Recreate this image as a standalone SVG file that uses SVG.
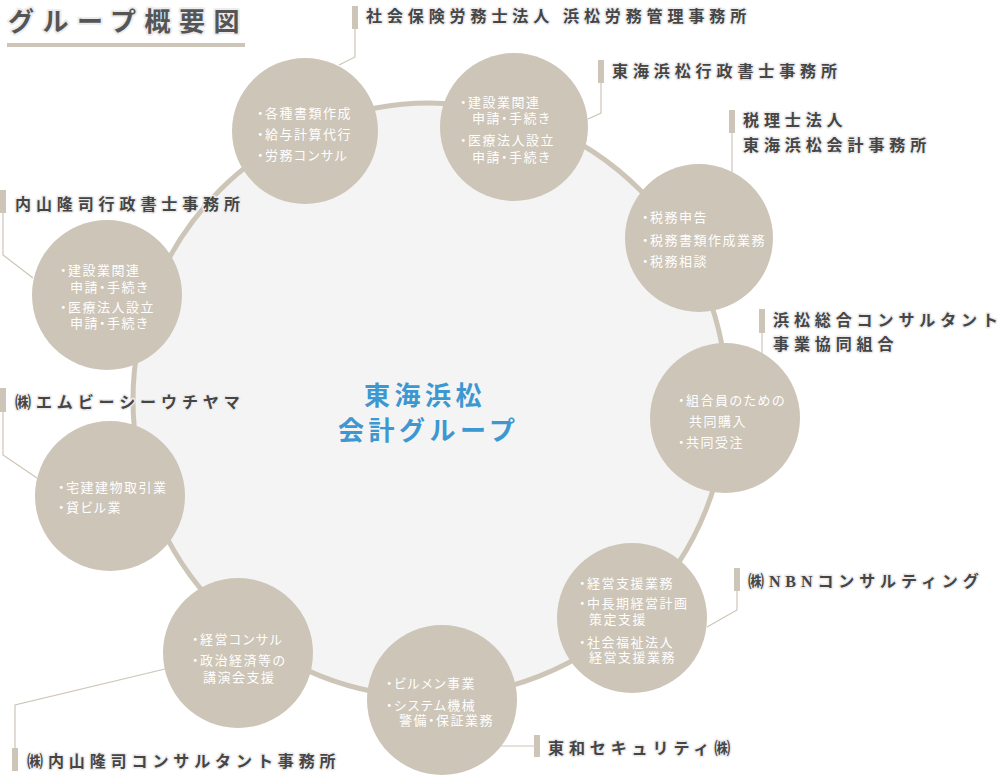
<svg xmlns="http://www.w3.org/2000/svg" width="1001" height="775" viewBox="0 0 1001 775">
<style>
.bg{fill:#ffffff}
.ring{fill:#f4f4f4;stroke:#cdc5b7;stroke-width:5}
.node{fill:#cdc5b7}
.nt{fill:#ffffff;font-family:"Noto Sans CJK JP","Noto Sans",sans-serif;font-size:13px;letter-spacing:1.5px;font-feature-settings:"palt"}
.bar{fill:#cdc5b7}
.con{fill:none;stroke:#cdc5b7;stroke-width:1.2}
.lbl{fill:#454545;font-family:"Liberation Serif","Noto Sans CJK JP",serif;font-weight:bold;font-size:16px;letter-spacing:4.9px;paint-order:stroke;stroke:#ececec;stroke-width:3px;stroke-linejoin:round}
.title{fill:#555555;font-family:"Liberation Serif","Noto Sans CJK JP",serif;font-weight:bold;font-size:26px;letter-spacing:8.5px;paint-order:stroke;stroke:#ececec;stroke-width:4px;stroke-linejoin:round}
.center{fill:#3d97d0;font-family:"Liberation Serif","Noto Sans CJK JP",serif;font-weight:bold;font-size:26px;letter-spacing:4.5px}
</style>
<rect class="bg" x="0" y="0" width="1001" height="775"/>
<g id="title">
<text class="title" x="8" y="31">グループ概要図</text>
<rect x="7" y="43" width="238" height="4" fill="#cdc5b7"/>
</g>
<g id="hub">
<circle class="ring" cx="430" cy="400" r="297"/>
<text class="center" x="364" y="405">東海浜松</text>
<text class="center" x="338" y="440">会計グループ</text>
</g>
<g id="connectors">
<polyline class="con" points="355,29 355,57 339,65"/>
<polyline class="con" points="601,83 601,113 588,119"/>
<polyline class="con" points="732,133 732,172"/>
<polyline class="con" points="762,333 762,354"/>
<polyline class="con" points="737,591 737,610 707,627"/>
<polyline class="con" points="500,746 534,746"/>
<polyline class="con" points="15,748 15,705 165,669"/>
<polyline class="con" points="3,412 3,455 37,478"/>
<polyline class="con" points="3,213 3,255 33,278"/>
</g>
<g id="node-sharoushi">
<circle class="node" cx="305" cy="131" r="73"/>
<text class="nt" x="257" y="118">・各種書類作成</text>
<text class="nt" x="257" y="139">・給与計算代行</text>
<text class="nt" x="257" y="160">・労務コンサル</text>
<rect class="bar" x="352" y="6" width="6" height="23"/>
<text class="lbl" x="366" y="22">社会保険労務士法人 浜松労務管理事務所</text>
</g>
<g id="node-gyosei">
<circle class="node" cx="514" cy="127" r="74"/>
<text class="nt" x="460" y="107">・建設業関連<tspan x="472" y="123">申請・手続き</tspan></text>
<text class="nt" x="460" y="145">・医療法人設立<tspan x="472" y="162">申請・手続き</tspan></text>
<rect class="bar" x="598" y="60" width="6" height="23"/>
<text class="lbl" x="612" y="77">東海浜松行政書士事務所</text>
</g>
<g id="node-zeirishi">
<circle class="node" cx="699" cy="238" r="74"/>
<text class="nt" x="642" y="222">・税務申告</text>
<text class="nt" x="642" y="245">・税務書類作成業務</text>
<text class="nt" x="642" y="266">・税務相談</text>
<rect class="bar" x="729" y="110" width="6" height="23"/>
<text class="lbl" x="743" y="126">税理士法人<tspan x="743" y="151">東海浜松会計事務所</tspan></text>
</g>
<g id="node-kumiai">
<circle class="node" cx="725" cy="418" r="75"/>
<text class="nt" x="678" y="405">・組合員のための<tspan x="689" y="426">共同購入</tspan></text>
<text class="nt" x="678" y="447">・共同受注</text>
<rect class="bar" x="759" y="309" width="6" height="24"/>
<text class="lbl" x="773" y="326">浜松総合コンサルタント<tspan x="773" y="350">事業協同組合</tspan></text>
</g>
<g id="node-nbn">
<circle class="node" cx="632" cy="618" r="75"/>
<text class="nt" x="579" y="588">・経営支援業務</text>
<text class="nt" x="579" y="608">・中長期経営計画<tspan x="589" y="624">策定支援</tspan></text>
<text class="nt" x="579" y="647">・社会福祉法人<tspan x="589" y="662">経営支援業務</tspan></text>
<rect class="bar" x="734" y="568" width="6" height="23"/>
<text class="lbl" x="748" y="587">㈱NBNコンサルティング</text>
</g>
<g id="node-towa">
<circle class="node" cx="442" cy="700" r="75"/>
<text class="nt" x="386" y="688">・ビルメン事業</text>
<text class="nt" x="386" y="710">・システム機械<tspan x="399" y="725">警備・保証業務</tspan></text>
<rect class="bar" x="534" y="735" width="6" height="22"/>
<text class="lbl" x="548" y="754">東和セキュリティ㈱</text>
</g>
<g id="node-uchiyama-consul">
<circle class="node" cx="238" cy="653" r="75"/>
<text class="nt" x="192" y="644">・経営コンサル</text>
<text class="nt" x="192" y="665">・政治経済等の<tspan x="203" y="682">講演会支援</tspan></text>
<rect class="bar" x="12" y="748" width="6" height="23"/>
<text class="lbl" x="27" y="767">㈱内山隆司コンサルタント事務所</text>
</g>
<g id="node-mbc">
<circle class="node" cx="110" cy="496" r="75"/>
<text class="nt" x="58" y="492">・宅建建物取引業</text>
<text class="nt" x="58" y="512">・貸ビル業</text>
<rect class="bar" x="0" y="388" width="6" height="24"/>
<text class="lbl" x="15" y="408">㈱エムビーシーウチヤマ</text>
</g>
<g id="node-uchiyama-gyosei">
<circle class="node" cx="107" cy="295" r="75"/>
<text class="nt" x="60" y="275">・建設業関連<tspan x="70" y="292">申請・手続き</tspan></text>
<text class="nt" x="60" y="312">・医療法人設立<tspan x="70" y="328">申請・手続き</tspan></text>
<rect class="bar" x="0" y="190" width="6" height="23"/>
<text class="lbl" x="15" y="210">内山隆司行政書士事務所</text>
</g>
</svg>
